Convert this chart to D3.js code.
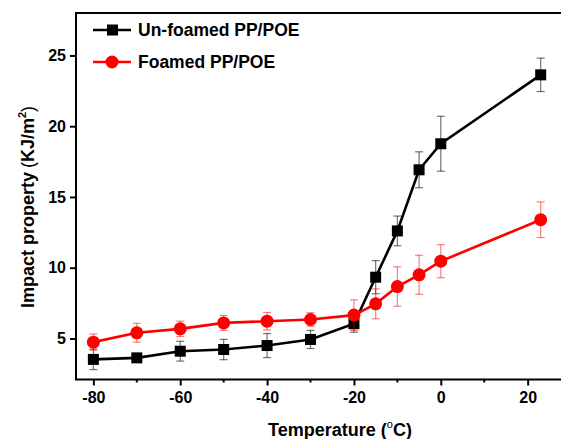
<!DOCTYPE html>
<html>
<head>
<meta charset="utf-8">
<script src="https://cdn.jsdelivr.net/npm/d3@7"></script>
<style>
  body { margin: 0; background: #fff; }
  svg text { font-family: "Liberation Sans", Arial, sans-serif; font-weight: bold; }
</style>
</head>
<body>
<div id="chart"></div>
<script>
// data
var temps = [-80, -70, -60, -50, -40, -30, -20, -15, -10, -5, 0, 23];
var unfoamed = [3.52, 3.63, 4.1, 4.22, 4.5, 4.93, 6.04, 9.33, 12.6, 16.92, 18.76, 23.63];
var unfoamedErr = [0.72, 0.2, 0.7, 0.72, 0.85, 0.64, 0.6, 1.17, 1.05, 1.27, 1.94, 1.18];
var foamed = [4.74, 5.4, 5.68, 6.1, 6.22, 6.34, 6.65, 7.45, 8.67, 9.5, 10.46, 13.39];
var foamedErr = [0.57, 0.67, 0.54, 0.53, 0.62, 0.48, 1.08, 1.06, 1.39, 1.38, 1.17, 1.26];
var xTicks = [-80, -60, -40, -20, 0, 20];
var xMinor = [-70, -50, -30, -10, 10];
var yTicks = [5, 10, 15, 20, 25];
var seriesNames = ["Un-foamed PP/POE", "Foamed PP/POE"];

var svgWidth = 561;
var svgHeight = 439;
var plotmargin = { top: 13, left: 76, bottom: 59 };

var svg = d3.select("#chart")
  .append("svg")
  .attr("width", svgWidth)
  .attr("height", svgHeight);

var x = d3.scaleLinear().domain([-84, 28]).range([plotmargin.left, plotmargin.left + 486.4]);
var y = d3.scaleLinear().domain([2.1, 28]).range([svgHeight - plotmargin.bottom - 0.5, plotmargin.top]);

// frame (right side runs off the image)
svg.append("rect")
  .attr("x", x(-84))
  .attr("y", y(28))
  .attr("width", x(28) - x(-84) + 10)
  .attr("height", y(2.1) - y(28))
  .attr("fill", "none")
  .attr("stroke", "#000")
  .attr("stroke-width", 2);

// x axis  (plain hyphen for negatives, like the original)
var xaxis = d3.axisBottom(x).tickValues(xTicks).tickSize(6).tickPadding(6)
  .tickFormat(d => String(d));
var gx = svg.append("g")
  .attr("transform", `translate(0, ${y(2.1)})`)
  .call(xaxis);
gx.select(".domain").remove();
gx.selectAll("line").attr("stroke-width", 2);
gx.selectAll("text").attr("font-size", 16).attr("fill", "#000");
svg.append("g")
  .attr("transform", `translate(0, ${y(2.1)})`)
  .selectAll("line")
  .data(xMinor)
  .enter()
  .append("line")
  .attr("x1", d => x(d)).attr("x2", d => x(d))
  .attr("y1", 0).attr("y2", 3)
  .attr("stroke", "#000")
  .attr("stroke-width", 2);

// y axis
var yaxis = d3.axisLeft(y).tickValues(yTicks).tickSize(6).tickPadding(4);
var gy = svg.append("g")
  .attr("transform", `translate(${x(-84)}, 0)`)
  .call(yaxis);
gy.select(".domain").remove();
gy.selectAll("line").attr("stroke-width", 2);
gy.selectAll("text").attr("font-size", 16).attr("fill", "#000");

// axis titles
var xt = svg.append("text")
  .attr("x", 340)
  .attr("y", 436)
  .attr("text-anchor", "middle")
  .attr("font-size", 18);
xt.append("tspan").text("Temperature (");
xt.append("tspan").attr("font-size", 11).attr("dy", -8).attr("font-weight", "normal").text("o");
xt.append("tspan").attr("dy", 8).text("C)");

var yt = svg.append("text")
  .attr("transform", "translate(34, 207) rotate(-90)")
  .attr("text-anchor", "middle")
  .attr("font-size", 18);
yt.append("tspan").text("Impact property");
yt.append("tspan").attr("font-weight", "normal").attr("dx", 4).text("(");
yt.append("tspan").text("KJ/m");
yt.append("tspan").attr("font-size", 11).attr("dy", -8).text("2");
yt.append("tspan").attr("dy", 8).attr("font-weight", "normal").text(")");

function drawSeries(vals, errs, color, errColor, shape) {
  var data = temps.map((t, i) => ({ t: t, v: vals[i], e: errs[i] }));
  var eb = svg.append("g").attr("stroke", errColor).attr("stroke-width", 1.2);
  data.forEach(d => {
    eb.append("line").attr("x1", x(d.t)).attr("x2", x(d.t))
      .attr("y1", y(d.v - d.e)).attr("y2", y(d.v + d.e));
    eb.append("line").attr("x1", x(d.t) - 4).attr("x2", x(d.t) + 4)
      .attr("y1", y(d.v - d.e)).attr("y2", y(d.v - d.e));
    eb.append("line").attr("x1", x(d.t) - 4).attr("x2", x(d.t) + 4)
      .attr("y1", y(d.v + d.e)).attr("y2", y(d.v + d.e));
  });
  svg.append("path")
    .datum(data)
    .attr("fill", "none")
    .attr("stroke", color)
    .attr("stroke-width", 2.6)
    .attr("d", d3.line().x(d => x(d.t)).y(d => y(d.v)));
  if (shape === "square") {
    svg.append("g").selectAll("rect")
      .data(data).enter().append("rect")
      .attr("x", d => x(d.t) - 5.5).attr("y", d => y(d.v) - 5.5)
      .attr("width", 11).attr("height", 11)
      .attr("fill", color);
  } else {
    svg.append("g").selectAll("circle")
      .data(data).enter().append("circle")
      .attr("cx", d => x(d.t)).attr("cy", d => y(d.v))
      .attr("r", 6.5)
      .attr("fill", color);
  }
}

drawSeries(unfoamed, unfoamedErr, "#000", "rgba(0,0,0,0.55)", "square");
drawSeries(foamed, foamedErr, "#ff0000", "rgba(255,0,0,0.5)", "circle");

// legend
var legend = svg.append("g");
[0, 1].forEach(i => {
  var ly = 30 + i * 32;
  var color = i === 0 ? "#000" : "#ff0000";
  legend.append("line")
    .attr("x1", 93).attr("x2", 131).attr("y1", ly).attr("y2", ly)
    .attr("stroke", color).attr("stroke-width", 2.6);
  if (i === 0) {
    legend.append("rect").attr("x", 107).attr("y", ly - 5.5).attr("width", 11).attr("height", 11).attr("fill", color);
  } else {
    legend.append("circle").attr("cx", 112).attr("cy", ly).attr("r", 6.5).attr("fill", color);
  }
  legend.append("text")
    .attr("x", 138).attr("y", ly + 6)
    .attr("font-size", 17.5)
    .text(seriesNames[i]);
});
</script>
</body>
</html>
